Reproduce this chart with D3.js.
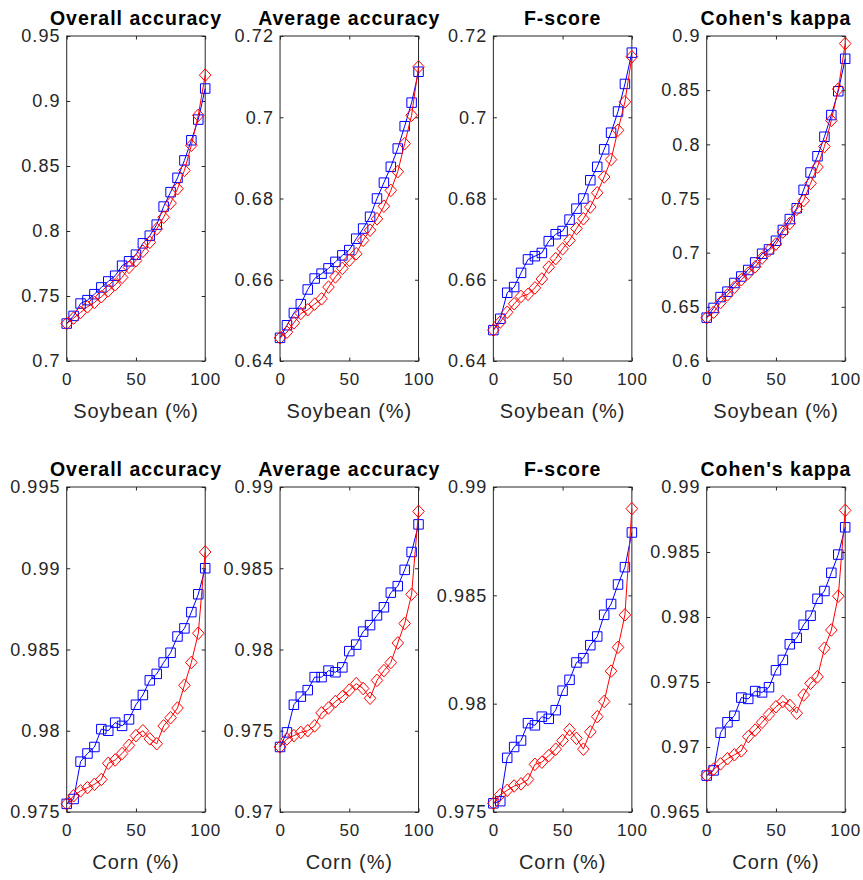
<!DOCTYPE html>
<html>
<head>
<meta charset="utf-8">
<script src="https://cdn.jsdelivr.net/npm/d3@7"></script>
<style>
  body { margin: 0; background: #fff; }
  svg { display: block; }
  text { font-family: "Liberation Sans", Arial, Helvetica, sans-serif; }
</style>
</head>
<body>
<svg id="chart" width="863" height="880"></svg>
<script>
// Share of labelled crop samples (%)
const xPercent = [0, 5, 10, 15, 20, 25, 30, 35, 40, 45, 50, 55, 60, 65, 70, 75, 80, 85, 90, 95, 100];
const xTicks = [0, 50, 100];

const metricTitles = ["Overall accuracy", "Average accuracy", "F-score", "Cohen's kappa"];
const cropLabels = ["Soybean (%)", "Corn (%)"];

// Soybean — method A (blue squares) and method B (red diamonds)
const soyOA_A = [0.7288, 0.7347, 0.7442, 0.7468, 0.7514, 0.7566, 0.7612, 0.7656, 0.7733, 0.7767, 0.7818, 0.7905, 0.7964, 0.8049, 0.8188, 0.8299, 0.8409, 0.8543, 0.8698, 0.8857, 0.9096];
const soyOA_B = [0.7288, 0.7330, 0.7373, 0.7417, 0.7450, 0.7494, 0.7540, 0.7586, 0.7643, 0.7720, 0.7772, 0.7844, 0.7913, 0.8016, 0.8106, 0.8214, 0.8325, 0.8466, 0.8659, 0.8890, 0.9199];
const soyAA_A = [0.6457, 0.6488, 0.6518, 0.6540, 0.6576, 0.6603, 0.6615, 0.6628, 0.6644, 0.6660, 0.6673, 0.6701, 0.6726, 0.6755, 0.6800, 0.6839, 0.6878, 0.6923, 0.6978, 0.7036, 0.7112];
const soyAA_B = [0.6457, 0.6471, 0.6494, 0.6517, 0.6526, 0.6540, 0.6553, 0.6582, 0.6607, 0.6628, 0.6648, 0.6664, 0.6697, 0.6722, 0.6750, 0.6781, 0.6820, 0.6866, 0.6935, 0.7005, 0.7124];
const soyF_A  = [0.6476, 0.6504, 0.6568, 0.6582, 0.6617, 0.6650, 0.6658, 0.6666, 0.6695, 0.6712, 0.6720, 0.6748, 0.6775, 0.6800, 0.6845, 0.6878, 0.6921, 0.6962, 0.7014, 0.7082, 0.7159];
const soyF_B  = [0.6476, 0.6496, 0.6520, 0.6541, 0.6559, 0.6564, 0.6580, 0.6602, 0.6631, 0.6652, 0.6676, 0.6697, 0.6726, 0.6750, 0.6779, 0.6814, 0.6853, 0.6896, 0.6968, 0.7038, 0.7149];
const soyK_A  = [0.640, 0.649, 0.659, 0.664, 0.672, 0.678, 0.684, 0.691, 0.699, 0.703, 0.711, 0.721, 0.731, 0.741, 0.758, 0.774, 0.789, 0.807, 0.827, 0.849, 0.879];
const soyK_B  = [0.640, 0.645, 0.654, 0.661, 0.668, 0.675, 0.681, 0.687, 0.695, 0.702, 0.708, 0.719, 0.727, 0.740, 0.748, 0.764, 0.779, 0.798, 0.822, 0.851, 0.893];

// Corn — method A (blue squares) and method B (red diamonds)
const cornOA_A = [0.9755, 0.9758, 0.9781, 0.9786, 0.9790, 0.9801, 0.9800, 0.9805, 0.9803, 0.9807, 0.9816, 0.9822, 0.9831, 0.9835, 0.9842, 0.9848, 0.9858, 0.9863, 0.9873, 0.9884, 0.9900];
const cornOA_B = [0.9755, 0.9760, 0.9763, 0.9765, 0.9767, 0.9770, 0.9780, 0.9782, 0.9786, 0.9791, 0.9797, 0.9800, 0.9795, 0.9792, 0.9803, 0.9808, 0.9814, 0.9828, 0.9842, 0.9860, 0.9910];
const cornAA_A = [0.9740, 0.9749, 0.9766, 0.9771, 0.9775, 0.9783, 0.9783, 0.9787, 0.9786, 0.9789, 0.9799, 0.9803, 0.9811, 0.9815, 0.9821, 0.9826, 0.9835, 0.9839, 0.9849, 0.9860, 0.9877];
const cornAA_B = [0.9740, 0.9745, 0.9747, 0.9749, 0.9750, 0.9753, 0.9761, 0.9764, 0.9768, 0.9771, 0.9775, 0.9779, 0.9776, 0.9770, 0.9781, 0.9787, 0.9792, 0.9804, 0.9816, 0.9834, 0.9885];
const cornF_A  = [0.9754, 0.9755, 0.9775, 0.9780, 0.9783, 0.9791, 0.9790, 0.9794, 0.9793, 0.9797, 0.9806, 0.9811, 0.9819, 0.9821, 0.9827, 0.9831, 0.9841, 0.9846, 0.9855, 0.9863, 0.9879];
const cornF_B  = [0.9754, 0.9758, 0.9760, 0.9762, 0.9763, 0.9765, 0.9772, 0.9773, 0.9776, 0.9779, 0.9783, 0.9788, 0.9784, 0.9779, 0.9787, 0.9794, 0.9801, 0.9815, 0.9826, 0.9841, 0.9890];
const cornK_A  = [0.9678, 0.9682, 0.9711, 0.9719, 0.9724, 0.9738, 0.9737, 0.9743, 0.9742, 0.9746, 0.9759, 0.9767, 0.9779, 0.9784, 0.9794, 0.9801, 0.9814, 0.9820, 0.9834, 0.9848, 0.9869];
const cornK_B  = [0.9678, 0.9683, 0.9687, 0.9691, 0.9694, 0.9697, 0.9708, 0.9713, 0.9719, 0.9725, 0.9731, 0.9735, 0.9732, 0.9726, 0.9740, 0.9749, 0.9754, 0.9776, 0.9790, 0.9816, 0.9882];

// Y tick values for each panel
const soyOATicks = [0.7, 0.75, 0.8, 0.85, 0.9, 0.95];
const soyAATicks = [0.64, 0.66, 0.68, 0.7, 0.72];
const soyFTicks  = [0.64, 0.66, 0.68, 0.7, 0.72];
const soyKTicks  = [0.6, 0.65, 0.7, 0.75, 0.8, 0.85, 0.9];
const cornOATicks = [0.975, 0.98, 0.985, 0.99, 0.995];
const cornAATicks = [0.97, 0.975, 0.98, 0.985, 0.99];
const cornFTicks  = [0.975, 0.98, 0.985, 0.99];
const cornKTicks  = [0.965, 0.97, 0.975, 0.98, 0.985, 0.99];

const panels = [
  { row: 0, col: 0, ticks: soyOATicks,  a: soyOA_A,  b: soyOA_B },
  { row: 0, col: 1, ticks: soyAATicks,  a: soyAA_A,  b: soyAA_B },
  { row: 0, col: 2, ticks: soyFTicks,   a: soyF_A,   b: soyF_B },
  { row: 0, col: 3, ticks: soyKTicks,   a: soyK_A,   b: soyK_B },
  { row: 1, col: 0, ticks: cornOATicks, a: cornOA_A, b: cornOA_B },
  { row: 1, col: 1, ticks: cornAATicks, a: cornAA_A, b: cornAA_B },
  { row: 1, col: 2, ticks: cornFTicks,  a: cornF_A,  b: cornF_B },
  { row: 1, col: 3, ticks: cornKTicks,  a: cornK_A,  b: cornK_B }
];

// Layout
const plotW = 138.5, plotH = 325;
const colStep = 213.33, left0 = 66.7;
const rowTops = [36, 487];
const axisColor = "#262626";
const tickLen = 3.5;
const colorA = "#0000ff", colorB = "#ff0000";

const svg = d3.select("#chart");
const fmt = v => String(+v.toFixed(4));

panels.forEach(p => {
  const g = svg.append("g")
    .attr("transform", `translate(${left0 + p.col * colStep},${rowTops[p.row]})`);

  const x = d3.scaleLinear().domain([0, 100]).range([0, plotW]);
  const y = d3.scaleLinear().domain(d3.extent(p.ticks)).range([plotH, 0]);

  const styleAxis = (sel, size, spacing) => {
    sel.select(".domain").remove();
    sel.selectAll(".tick line").attr("stroke", axisColor).attr("stroke-width", 1);
    sel.selectAll(".tick text")
      .attr("fill", axisColor)
      .style("font-size", size + "px")
      .style("letter-spacing", spacing + "px")
      .style("font-family", '"Liberation Sans", Arial, sans-serif');
  };

  g.append("g")
    .call(d3.axisLeft(y).tickValues(p.ticks).tickFormat(fmt).tickSize(-tickLen).tickPadding(6))
    .call(styleAxis, 18, 1.1);
  g.append("g").attr("transform", `translate(${plotW},0)`)
    .call(d3.axisRight(y).tickValues(p.ticks).tickFormat("").tickSize(-tickLen))
    .call(styleAxis, 18, 1);
  g.append("g").attr("transform", `translate(0,${plotH})`)
    .call(d3.axisBottom(x).tickValues(xTicks).tickFormat(d3.format("d")).tickSize(-tickLen).tickPadding(12))
    .call(styleAxis, 17, 0.8);
  g.append("g")
    .call(d3.axisTop(x).tickValues(xTicks).tickFormat("").tickSize(-tickLen))
    .call(styleAxis, 17, 0.8);

  g.append("rect")
    .attr("width", plotW).attr("height", plotH)
    .attr("fill", "none").attr("stroke", axisColor).attr("stroke-width", 1);

  // Title and x label
  g.append("text")
    .attr("x", plotW / 2).attr("y", -11)
    .attr("text-anchor", "middle")
    .style("font-size", "19.5px").style("font-weight", "bold")
    .style("letter-spacing", "1px")
    .attr("fill", "#000")
    .text(metricTitles[p.col]);

  g.append("text")
    .attr("x", plotW / 2).attr("y", plotH + 57)
    .attr("text-anchor", "middle")
    .style("font-size", "20px")
    .style("letter-spacing", "0.9px")
    .attr("fill", axisColor)
    .text(cropLabels[p.row]);

  const line = d3.line().x((d, i) => x(xPercent[i])).y(d => y(d));

  // Method A: blue squares
  g.append("path").datum(p.a)
    .attr("d", line).attr("fill", "none").attr("stroke", colorA).attr("stroke-width", 1);
  g.selectAll(".sqA").data(p.a).join("path")
    .attr("class", "sqA")
    .attr("transform", (d, i) => `translate(${x(xPercent[i])},${y(d)})`)
    .attr("d", d3.symbol(d3.symbolSquare, 90))
    .attr("fill", "none").attr("stroke", colorA).attr("stroke-width", 1);

  // Method B: red diamonds
  g.append("path").datum(p.b)
    .attr("d", line).attr("fill", "none").attr("stroke", colorB).attr("stroke-width", 1);
  g.selectAll(".dmB").data(p.b).join("path")
    .attr("class", "dmB")
    .attr("transform", (d, i) => `translate(${x(xPercent[i])},${y(d)})`)
    .attr("d", "M0,-6.3L5.8,0L0,6.3L-5.8,0Z")
    .attr("fill", "none").attr("stroke", colorB).attr("stroke-width", 1);
});
</script>
</body>
</html>
